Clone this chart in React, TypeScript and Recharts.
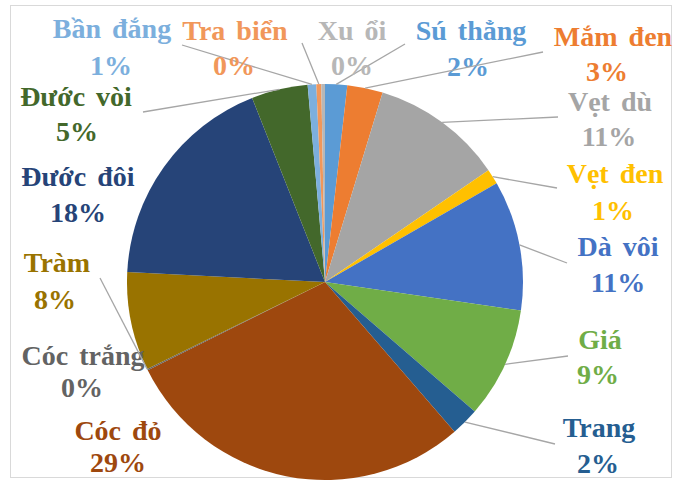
import { PieChart, Pie, Cell } from 'recharts';

// Mangrove species share (%), clockwise from 12 o'clock
const SPECIES = [
  'Sú thẳng', 'Mắm đen', 'Vẹt dù', 'Vẹt đen', 'Dà vôi', 'Giá', 'Trang',
  'Cóc đỏ', 'Cóc trắng', 'Tràm', 'Đước đôi', 'Đước vòi', 'Bần đắng', 'Tra biển', 'Xu ổi',
];
const SHARES = [1.8, 2.9, 10.75, 1.25, 10.6, 9.05, 2.3, 29.0, 0.1, 8.05, 18.2, 4.6, 0.7, 0.4, 0.3];

const COLORS = [
  '#5B9BD5', '#ED7D31', '#A5A5A5', '#FFC000', '#4472C4', '#70AD47', '#255E91',
  '#9E480E', '#636363', '#997300', '#264478', '#43682B', '#7CAFDD', '#F1975A', '#B7B7B7',
];

// label placement (text centre of each line) and where its leader line starts
type LabelPos = { x1: number; y1: number; x2: number; y2: number; lead?: [number, number]; attach?: 'start' };
const LABEL_LAYOUT: LabelPos[] = [
  { x1: 471, y1: 30, x2: 468, y2: 66, lead: [405, 44] },
  { x1: 613, y1: 36, x2: 607, y2: 71, lead: [543, 52] },
  { x1: 610, y1: 101, x2: 609, y2: 136, lead: [558, 117] },
  { x1: 615, y1: 173, x2: 613, y2: 210, lead: [557, 188] },
  { x1: 618, y1: 246, x2: 618, y2: 282, lead: [567, 263] },
  { x1: 600, y1: 339, x2: 598, y2: 374, lead: [568, 356] },
  { x1: 599, y1: 427, x2: 598, y2: 463, lead: [555, 444] },
  { x1: 118, y1: 430, x2: 118, y2: 462 },
  { x1: 83, y1: 355, x2: 82, y2: 387 },
  { x1: 57, y1: 262, x2: 55, y2: 299, lead: [100, 278], attach: 'start' },
  { x1: 78, y1: 176, x2: 78, y2: 212 },
  { x1: 76, y1: 96, x2: 77, y2: 131, lead: [143, 112] },
  { x1: 112, y1: 28, x2: 111, y2: 65, lead: [182, 45] },
  { x1: 235, y1: 30, x2: 234, y2: 65, lead: [302, 43] },
  { x1: 352, y1: 30, x2: 352, y2: 65 },
];

const data = SPECIES.map((name, i) => ({ name, value: SHARES[i] }));

const RADIAN = Math.PI / 180;
const TEXT_STYLE = {
  fontFamily: "'Liberation Serif', 'Times New Roman', serif",
  fontWeight: 700,
  fontSize: 28,
  wordSpacing: 4,
};

/**
 * Two-line data label (name + rounded percent) with a grey leader line
 */
function renderLabel(props: any) {
  const { cx, cy, outerRadius, midAngle, startAngle, percent, index } = props;
  const pos = LABEL_LAYOUT[index];
  const color = COLORS[index];
  const ang = pos.attach === 'start' ? startAngle : midAngle;
  const ex = cx + outerRadius * Math.cos(-ang * RADIAN);
  const ey = cy + outerRadius * Math.sin(-ang * RADIAN);
  return (
    <g key={`lbl-${index}`}>
      {pos.lead && (
        <line x1={pos.lead[0]} y1={pos.lead[1]} x2={ex} y2={ey} stroke="#A6A6A6" strokeWidth={1.3} />
      )}
      <text x={pos.x1} y={pos.y1} textAnchor="middle" dominantBaseline="central" fill={color} style={TEXT_STYLE}>
        {SPECIES[index]}
      </text>
      <text x={pos.x2} y={pos.y2} textAnchor="middle" dominantBaseline="central" fill={color} style={TEXT_STYLE}>
        {`${Math.round(percent * 100)}%`}
      </text>
    </g>
  );
}

export default function App() {
  return (
    <div style={{ position: 'absolute', left: 0, top: 0, width: 676, height: 486, background: '#fff' }}>
      <div
        style={{
          position: 'absolute',
          left: 10,
          top: 5,
          width: 662,
          height: 473,
          border: '1px solid #D9D9D9',
          boxSizing: 'border-box',
        }}
      />
      <PieChart width={676} height={486} style={{ position: 'absolute', left: 0, top: 0 }}>
        <Pie
          data={data}
          dataKey="value"
          nameKey="name"
          cx={320}
          cy={277}
          outerRadius={198}
          startAngle={90}
          endAngle={-270}
          stroke="none"
          label={renderLabel}
          labelLine={false}
          isAnimationActive={false}
        >
          {data.map((d, i) => (
            <Cell key={d.name} fill={COLORS[i]} />
          ))}
        </Pie>
      </PieChart>
    </div>
  );
}
